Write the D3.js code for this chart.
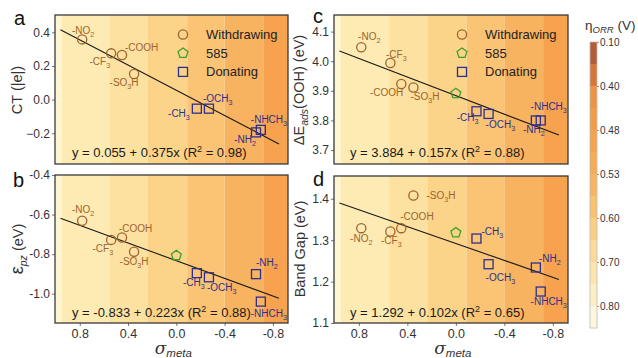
<!DOCTYPE html>
<html>
<head>
<meta charset="utf-8">
<script src="https://cdn.jsdelivr.net/npm/d3@7"></script>
<style>
  body { margin: 0; background: #fff; }
  svg { font-family: "Liberation Sans", Arial, sans-serif; }
</style>
</head>
<body>
<div class="fig"></div>
<script>
// ---- data ----
const names = ["-NO_2", "-CF_3", "-COOH", "-SO_3H", "585", "-CH_3", "-OCH_3", "-NH_2", "-NHCH_3"]
const kinds = ["Withdrawing", "Withdrawing", "Withdrawing", "Withdrawing", "585", "Donating", "Donating", "Donating", "Donating"]
const sigma = [0.78, 0.54, 0.45, 0.35, 0.0, -0.17, -0.27, -0.66, -0.70]

const ctVals  = [0.358, 0.275, 0.265, 0.152, null, -0.054, -0.054, -0.195, -0.18]
const epzVals = [-0.631, -0.728, -0.716, -0.788, -0.807, -0.896, -0.917, -0.901, -1.04]
const dEVals  = [4.047, 3.994, 3.923, 3.911, 3.891, 3.831, 3.822, 3.80, 3.80]
const gapVals = [1.329, 1.321, 1.329, 1.408, 1.318, 1.304, 1.242, 1.234, 1.176]

const ctFit  = [0.055, 0.375]
const epzFit = [-0.833, 0.223]
const dEFit  = [3.884, 0.157]
const gapFit = [1.292, 0.102]
const ctEq  = ["y = 0.055 + 0.375x (R", "2", " = 0.98)"]
const epzEq = ["y = -0.833 + 0.223x (R", "2", " = 0.88)"]
const dEEq  = ["y = 3.884 + 0.157x (R", "2", " = 0.88)"]
const gapEq = ["y = 1.292 + 0.102x (R", "2", " = 0.65)"]
const fitRange = [0.96, -0.85]

const xTicks   = [0.8, 0.4, 0.0, -0.4, -0.8]
const ctTicks  = [0.4, 0.2, 0.0, -0.2]
const epzTicks = [-0.4, -0.6, -0.8, -1.0]
const dETicks  = [4.1, 4.0, 3.9, 3.8, 3.7]
const gapTicks = [1.4, 1.3, 1.2, 1.1]

// background η bands along sigma
const bandEdges  = [1.005, 0.95, 0.55, 0.235, -0.09, -0.40, -0.72, -0.925]
const bandColors = ["#fef6d3", "#fdebb3", "#fce1a0", "#fbd48a", "#fac474", "#f8b360", "#f6a24e"]

// colour bar
const etaLabels = ["0.10", "0.40", "0.48", "0.53", "0.60", "0.70", "0.80"]
const etaColors = ["#b25c38", "#d8763a", "#ee9345", "#f29c4a", "#f4a34f", "#f6ab56", "#f8b55f",
                   "#fac16e", "#fcce82", "#fdda98", "#fee5ae", "#feeec4", "#fef7de"]

const legendKinds = ["Withdrawing", "585", "Donating"]
const kindColor = {"Withdrawing": "#a0622e", "585": "#3c9e2c", "Donating": "#2d2f8f"}

// ---- layout ----
const svg = d3.select(".fig").append("svg")
  .attr("width", 638).attr("height", 358)

const fmtMinus = d => d3.format(".1f")(d)
const fmtHyphen = d => d3.format(".1f")(d).replace("\u2212", "-")

// label offsets [dx, dy, anchor] per point
const panels = [
  {letter: "a", letterPos: [14, 25], box: [55, 15, 233, 149], yDom: [-0.383, 0.503], vals: ctVals, fit: ctFit, eq: ctEq,
   ticks: ctTicks, fmt: fmtMinus, legend: true, xaxis: false, eqPos: [72, 157],
   lab: [[1, -5, "middle"], [-1, 12, "end"], [3, -4, "start"], [-10, 12, "middle"], null,
         [-7, 8, "end"], [-6, -7, "start"], [0, 11, "end"], [-10, -7, "start"]]},
  {letter: "b", letterPos: [13, 187], box: [55, 175, 233, 148], yDom: [-1.148, -0.4], vals: epzVals, fit: epzFit, eq: epzEq,
   ticks: epzTicks, fmt: fmtHyphen, legend: false, xaxis: true, eqPos: [72, 317],
   lab: [[1, -8, "middle"], [2, 12, "end"], [-3, -6, "start"], [0, 13, "middle"], null,
         [-3, 13, "middle"], [-2, 14, "start"], [0, -8, "start"], [8, 15, "middle"]]},
  {letter: "c", letterPos: [313, 23], box: [334, 15, 234, 149], yDom: [3.653, 4.156], vals: dEVals, fit: dEFit, eq: dEEq,
   ticks: dETicks, fmt: fmtMinus, legend: true, xaxis: false, eqPos: [350, 157],
   lab: [[8, -7, "middle"], [6, -5, "middle"], [2, 12, "end"], [-3, 12, "start"], null,
         [2, 10, "end"], [-3, 14, "start"], [-2, 13, "middle"], [8, -10, "middle"]]},
  {letter: "d", letterPos: [313, 186], box: [334, 176, 234, 147], yDom: [1.1, 1.455], vals: gapVals, fit: gapFit, eq: gapEq,
   ticks: gapTicks, fmt: fmtMinus, legend: false, xaxis: true, eqPos: [350, 317],
   lab: [[0, 14, "middle"], [1, 13, "middle"], [-1, -8, "start"], [13, 4, "start"], null,
         [5, -4, "start"], [-3, 17, "start"], [3, -6, "start"], [8, 13, "middle"]]}
]

function richText(sel, str, size) {
  const parts = str.split(/_(\d)/)
  parts.forEach((p, i) => {
    if (!p) return
    const t = sel.append("tspan").text(p)
    if (i % 2 === 1) t.attr("font-size", size * 0.72).attr("dy", 3)
    else if (i > 0) t.attr("dy", -3)
  })
}

const pentagon = d3.lineRadial().curve(d3.curveLinearClosed)
  .angle(d => d).radius(5.2)
const pentPts = d3.range(5).map(i => i * 2 * Math.PI / 5)

function marker(g, kind, x, y) {
  const c = kindColor[kind]
  if (kind === "Withdrawing") {
    g.append("circle").attr("cx", x).attr("cy", y).attr("r", 4.6)
      .attr("fill", "none").attr("stroke", c).attr("stroke-width", 1.3)
  } else if (kind === "Donating") {
    g.append("rect").attr("x", x - 4.5).attr("y", y - 4.5).attr("width", 9).attr("height", 9)
      .attr("fill", "none").attr("stroke", c).attr("stroke-width", 1.3)
  } else {
    g.append("path").attr("d", pentagon(pentPts)).attr("transform", `translate(${x},${y})`)
      .attr("fill", "none").attr("stroke", c).attr("stroke-width", 1.3)
  }
}

panels.forEach(p => {
  const [bx, by, bw, bh] = p.box
  const x = d3.scaleLinear().domain([bandEdges[0], bandEdges[bandEdges.length - 1]]).range([bx, bx + bw])
  const y = d3.scaleLinear().domain(p.yDom).range([by + bh, by])
  const g = svg.append("g")

  // background bands
  g.selectAll("rect.band").data(bandColors).enter().append("rect")
    .attr("class", "band")
    .attr("x", (d, i) => x(bandEdges[i]))
    .attr("width", (d, i) => x(bandEdges[i + 1]) - x(bandEdges[i]))
    .attr("y", by).attr("height", bh)
    .attr("fill", d => d)

  // y axis
  g.append("g").attr("transform", `translate(${bx},0)`)
    .call(d3.axisLeft(y).tickValues(p.ticks).tickFormat(p.fmt).tickSize(3).tickPadding(2))
    .call(a => a.select(".domain").remove())
    .call(a => a.selectAll("line").attr("stroke", "#777"))
    .call(a => a.selectAll("text").attr("font-size", 12).attr("fill", "#333")
      .attr("font-family", "Liberation Sans, Arial, sans-serif"))

  if (p.xaxis) {
    g.append("g").attr("transform", `translate(0,${by + bh})`)
      .call(d3.axisBottom(x).tickValues(xTicks).tickFormat(fmtHyphen).tickSize(3).tickPadding(3))
      .call(a => a.select(".domain").remove())
      .call(a => a.selectAll("line").attr("stroke", "#777"))
      .call(a => a.selectAll("text").attr("font-size", 12.5).attr("fill", "#333")
        .attr("font-family", "Liberation Sans, Arial, sans-serif"))
    const t = g.append("text").attr("x", x(0) - 3).attr("y", 354).attr("text-anchor", "middle")
      .attr("fill", "#333").attr("font-style", "italic")
    t.append("tspan").text("\u03c3").attr("font-size", 17).attr("font-family", "DejaVu Serif, serif")
    t.append("tspan").text("meta").attr("font-size", 11.5).attr("dy", 3)
  }

  // frame
  g.append("rect").attr("x", bx).attr("y", by).attr("width", bw).attr("height", bh)
    .attr("fill", "none").attr("stroke", "#3a3a3a").attr("stroke-width", 1.3)

  // fit line
  g.append("line")
    .attr("x1", x(fitRange[0])).attr("y1", y(p.fit[0] + p.fit[1] * fitRange[0]))
    .attr("x2", x(fitRange[1])).attr("y2", y(p.fit[0] + p.fit[1] * fitRange[1]))
    .attr("stroke", "#1a1a1a").attr("stroke-width", 1.1)

  // points and labels
  p.vals.forEach((v, i) => {
    if (v === null) return
    const px = x(sigma[i]), py = y(v)
    marker(g, kinds[i], px, py)
    const o = p.lab[i]
    if (!o) return
    const t = g.append("text").attr("x", px + o[0]).attr("y", py + o[1])
      .attr("text-anchor", o[2]).attr("font-size", 10).attr("fill", kindColor[kinds[i]])
    richText(t, names[i], 10)
  })

  // equation
  const eq = g.append("text").attr("x", p.eqPos[0]).attr("y", p.eqPos[1])
    .attr("font-size", 13).attr("fill", "#1a1a1a")
  eq.append("tspan").text(p.eq[0])
  eq.append("tspan").text(p.eq[1]).attr("font-size", 9).attr("dy", -5)
  eq.append("tspan").text(p.eq[2]).attr("dy", 5)

  // legend
  if (p.legend) {
    legendKinds.forEach((k, i) => {
      const ly = by + 19.5 + i * 18.7
      marker(g, k, bx + 128, ly)
      g.append("text").attr("x", bx + 151).attr("y", ly + 4.5).attr("font-size", 13)
        .attr("fill", "#222").text(k)
    })
  }

  // panel letter
  g.append("text").attr("x", p.letterPos[0]).attr("y", p.letterPos[1]).attr("font-size", 20)
    .attr("fill", "#111").text(p.letter)
})

// y axis titles
function yTitle(x, y, build) {
  const t = svg.append("text").attr("transform", `translate(${x},${y}) rotate(-90)`)
    .attr("text-anchor", "middle").attr("font-size", 14.5).attr("fill", "#333")
  build(t)
}
yTitle(22, 90, t => t.text("CT (|e|)"))
yTitle(23, 249, t => {
  t.append("tspan").text("\u03b5").attr("font-size", 18)
  t.append("tspan").text("pz").attr("font-style", "italic").attr("font-size", 10.5).attr("dy", 4)
  t.append("tspan").text(" (eV)").attr("dy", -4)
})
yTitle(304, 90, t => {
  t.append("tspan").text("\u0394E")
  t.append("tspan").text("ads").attr("font-style", "italic").attr("font-size", 10.5).attr("dy", 4)
  t.append("tspan").text("(OOH) (eV)").attr("dy", -4)
})
yTitle(305, 249, t => t.text("Band Gap (eV)"))

// colour bar
const cbY = d3.scalePoint().domain(etaLabels).range([42, 306])
const step = cbY.step() / 2
const cb = svg.append("g")
cb.selectAll("rect").data(etaColors).enter().append("rect")
  .attr("x", 590).attr("width", 7)
  .attr("y", (d, i) => 42 + i * step).attr("height", step + 0.5)
  .attr("fill", d => d)
cb.append("rect").attr("x", 590).attr("y", 42).attr("width", 7).attr("height", etaColors.length * step)
  .attr("fill", "none").attr("stroke", "#bbb").attr("stroke-width", 0.8)
cb.append("g").attr("transform", "translate(597,0)")
  .call(d3.axisRight(cbY).tickSize(2).tickPadding(1))
  .call(a => a.select(".domain").remove())
  .call(a => a.selectAll("line").attr("stroke", "#999"))
  .call(a => a.selectAll("text").attr("font-size", 10).attr("fill", "#333")
    .attr("font-family", "Liberation Sans, Arial, sans-serif"))
const ct = svg.append("text").attr("x", 585).attr("y", 30).attr("font-size", 13.5).attr("fill", "#333")
ct.append("tspan").text("\u03b7")
ct.append("tspan").text("ORR").attr("font-style", "italic").attr("font-size", 9.5).attr("dy", 3)
ct.append("tspan").text(" (V)").attr("dy", -3)
</script>
</body>
</html>
